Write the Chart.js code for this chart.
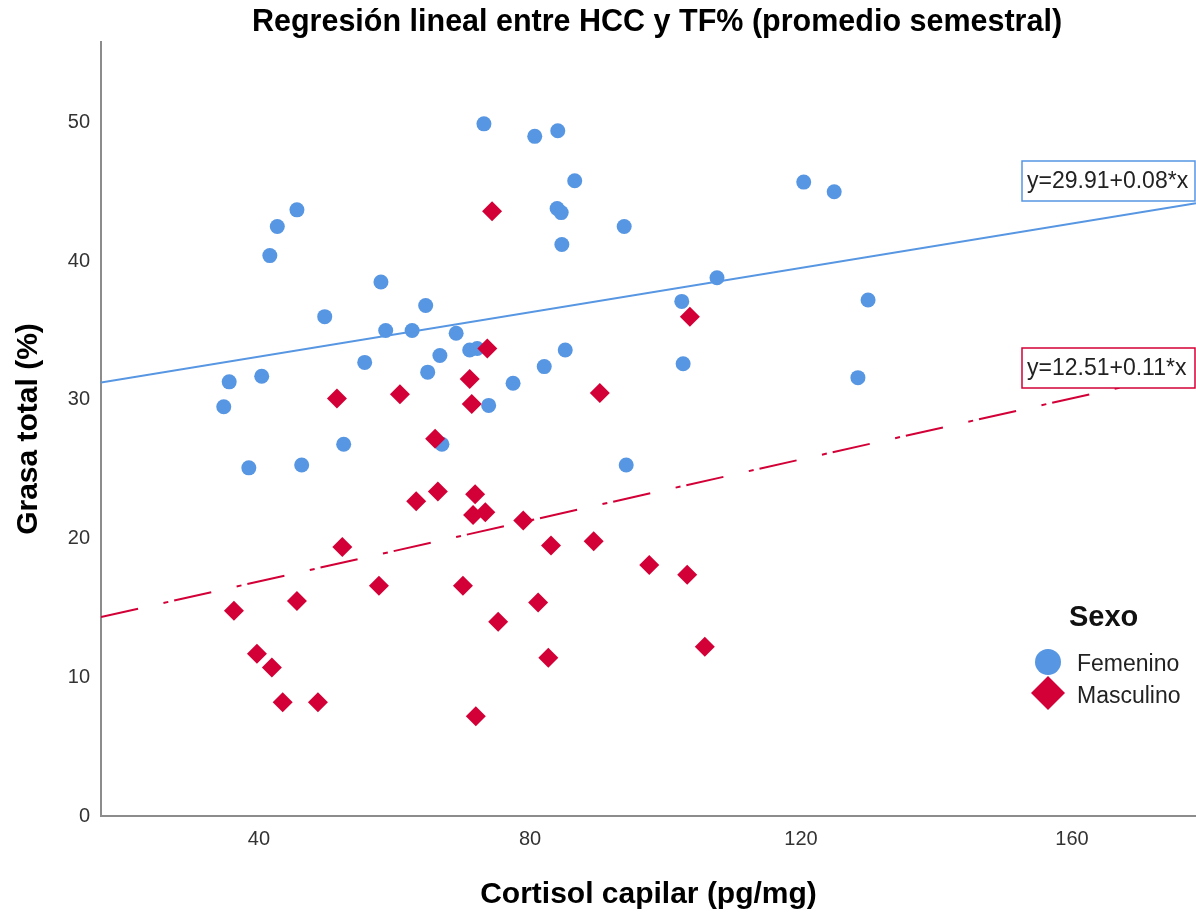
<!DOCTYPE html>
<html>
<head>
<meta charset="utf-8">
<script src="https://cdn.jsdelivr.net/npm/chart.js@4/dist/chart.umd.min.js"></script>
<style>
  body { margin: 0; background: #fff; }
  canvas { display: block; }
</style>
</head>
<body>
<canvas id="chart" width="1196" height="913"></canvas>
<script>
// Femenino (blue circles)
const femX = [73.2, 80.7, 84.1, 86.6, 84.0, 84.6, 93.9, 84.7, 120.4, 124.9,
  45.6, 42.7, 41.6, 58.0, 64.6, 49.7, 58.7, 62.6, 69.1, 71.1,
  72.2, 66.7, 55.6, 64.9, 40.4, 35.6, 34.8, 73.9, 52.5, 67.0,
  38.5, 46.3, 94.2, 107.6, 102.4, 129.9, 85.2, 82.1, 77.5, 102.6, 128.4];
const femY = [49.9, 49.0, 49.4, 45.8, 43.8, 43.5, 42.5, 41.2, 45.7, 45.0,
  43.7, 42.5, 40.4, 38.5, 36.8, 36.0, 35.0, 35.0, 34.8, 33.6,
  33.7, 33.2, 32.7, 32.0, 31.7, 31.3, 29.5, 29.6, 26.8, 26.8,
  25.1, 25.3, 25.3, 38.8, 37.1, 37.2, 33.6, 32.4, 31.2, 32.6, 31.6];

// Masculino (red diamonds)
const masX = [74.4, 103.6, 73.7, 71.1, 71.4, 90.3, 51.5, 60.8, 66.0, 63.2,
  66.4, 71.9, 71.6, 73.4, 79.0, 52.3, 83.1, 89.4, 97.6, 103.2,
  57.7, 70.1, 81.2, 45.6, 36.3, 75.3, 39.7, 41.9, 82.7, 105.8,
  43.5, 48.7, 72.0];
const masY = [43.6, 36.0, 33.7, 31.5, 29.7, 30.5, 30.1, 30.4, 27.2, 22.7,
  23.4, 23.2, 21.7, 21.9, 21.3, 19.4, 19.5, 19.8, 18.1, 17.4,
  16.6, 16.6, 15.4, 15.5, 14.8, 14.0, 11.7, 10.7, 11.4, 12.2,
  8.2, 8.2, 7.2];

// regression fits as printed on the chart
const femFit = [29.91, 0.08];
const masFit = [12.51, 0.11];

const xRange = [16.68, 178.3];
const yRange = [0, 55.8];
const xTicks = [40, 80, 120, 160];
const yTicks = [0, 10, 20, 30, 40, 50];

const BLUE = '#5796e2';
const RED = '#d20036';
const FONT = "'Liberation Sans', Arial, sans-serif";

const toPoints = (xs, ys) => xs.map((x, i) => ({ x: x, y: ys[i] }));
const fitLine = (fit) => xRange.map(x => ({ x: x, y: fit[0] + fit[1] * x }));

// title, equation boxes and legend drawn over the chart
const overlay = {
  id: 'overlay',
  afterDraw(chart) {
    const ctx = chart.ctx;
    const area = chart.chartArea;
    ctx.save();

    ctx.fillStyle = '#000';
    ctx.font = 'bold 30.5px ' + FONT;
    ctx.textAlign = 'center';
    ctx.textBaseline = 'middle';
    ctx.fillText('Regresión lineal entre HCC y TF% (promedio semestral)', 657, 23);

    const boxes = [
      { text: 'y=' + femFit[0].toFixed(2) + '+' + femFit[1].toFixed(2) + '*x', color: BLUE, top: 161 },
      { text: 'y=' + masFit[0].toFixed(2) + '+' + masFit[1].toFixed(2) + '*x', color: RED, top: 348 }
    ];
    ctx.font = '23px ' + FONT;
    ctx.textAlign = 'left';
    boxes.forEach(b => {
      const left = 1022, w = area.right - 1 - left, h = 40;
      ctx.fillStyle = '#fff';
      ctx.fillRect(left, b.top, w, h);
      ctx.strokeStyle = b.color;
      ctx.lineWidth = 1.5;
      ctx.strokeRect(left, b.top, w, h);
      ctx.fillStyle = '#222';
      ctx.fillText(b.text, left + 5, b.top + h / 2 + 1);
    });

    // legend
    ctx.fillStyle = '#111';
    ctx.font = 'bold 29px ' + FONT;
    ctx.fillText('Sexo', 1069, 618);

    ctx.fillStyle = BLUE;
    ctx.beginPath();
    ctx.arc(1048, 662, 13, 0, Math.PI * 2);
    ctx.fill();

    ctx.fillStyle = RED;
    ctx.beginPath();
    ctx.moveTo(1048, 676);
    ctx.lineTo(1065, 693);
    ctx.lineTo(1048, 710);
    ctx.lineTo(1031, 693);
    ctx.closePath();
    ctx.fill();

    ctx.fillStyle = '#222';
    ctx.font = '23px ' + FONT;
    ctx.fillText('Femenino', 1077, 665);
    ctx.fillText('Masculino', 1077, 697);

    ctx.restore();
  }
};

new Chart(document.getElementById('chart'), {
  type: 'scatter',
  data: {
    datasets: [
      {
        type: 'line',
        label: 'Ajuste Femenino',
        data: fitLine(femFit),
        borderColor: BLUE,
        borderWidth: 2,
        pointRadius: 0,
        fill: false
      },
      {
        type: 'line',
        label: 'Ajuste Masculino',
        data: fitLine(masFit),
        borderColor: RED,
        borderWidth: 2,
        borderDash: [38, 26, 5, 6],
        pointRadius: 0,
        fill: false
      },
      {
        label: 'Masculino',
        data: toPoints(masX, masY),
        pointStyle: 'rectRot',
        pointRadius: 10,
        backgroundColor: RED,
        borderWidth: 0
      },
      {
        label: 'Femenino',
        data: toPoints(femX, femY),
        pointStyle: 'circle',
        pointRadius: 7.5,
        backgroundColor: BLUE,
        borderWidth: 0
      }
    ]
  },
  options: {
    responsive: false,
    animation: false,
    layout: { autoPadding: false, padding: { top: 42, left: 0, right: 0, bottom: 0 } },
    plugins: {
      legend: { display: false },
      tooltip: { enabled: false },
      title: { display: false }
    },
    scales: {
      x: {
        type: 'linear',
        min: xRange[0],
        max: xRange[1],
        afterBuildTicks: (s) => { s.ticks = xTicks.map(v => ({ value: v })); },
        afterFit: (s) => { s.height = 97; },
        grid: { display: false, drawTicks: false },
        border: { display: true, color: '#8c8c8c', width: 2 },
        ticks: { padding: 11, color: '#333', font: { family: FONT, size: 20 } },
        title: {
          display: true,
          text: 'Cortisol capilar (pg/mg)',
          color: '#000',
          font: { family: FONT, size: 30, weight: 'bold' },
          padding: { top: 0, bottom: 0 }
        }
      },
      y: {
        type: 'linear',
        min: yRange[0],
        max: yRange[1],
        afterBuildTicks: (s) => { s.ticks = yTicks.map(v => ({ value: v })); },
        afterFit: (s) => { s.width = 101; },
        grid: { display: false, drawTicks: false },
        border: { display: true, color: '#8c8c8c', width: 2 },
        ticks: { padding: 11, color: '#333', font: { family: FONT, size: 20 } },
        title: {
          display: true,
          text: 'Grasa total (%)',
          color: '#000',
          font: { family: FONT, size: 30, weight: 'bold' },
          padding: { top: 11, bottom: 0 }
        }
      }
    }
  },
  plugins: [overlay]
});
</script>
</body>
</html>
